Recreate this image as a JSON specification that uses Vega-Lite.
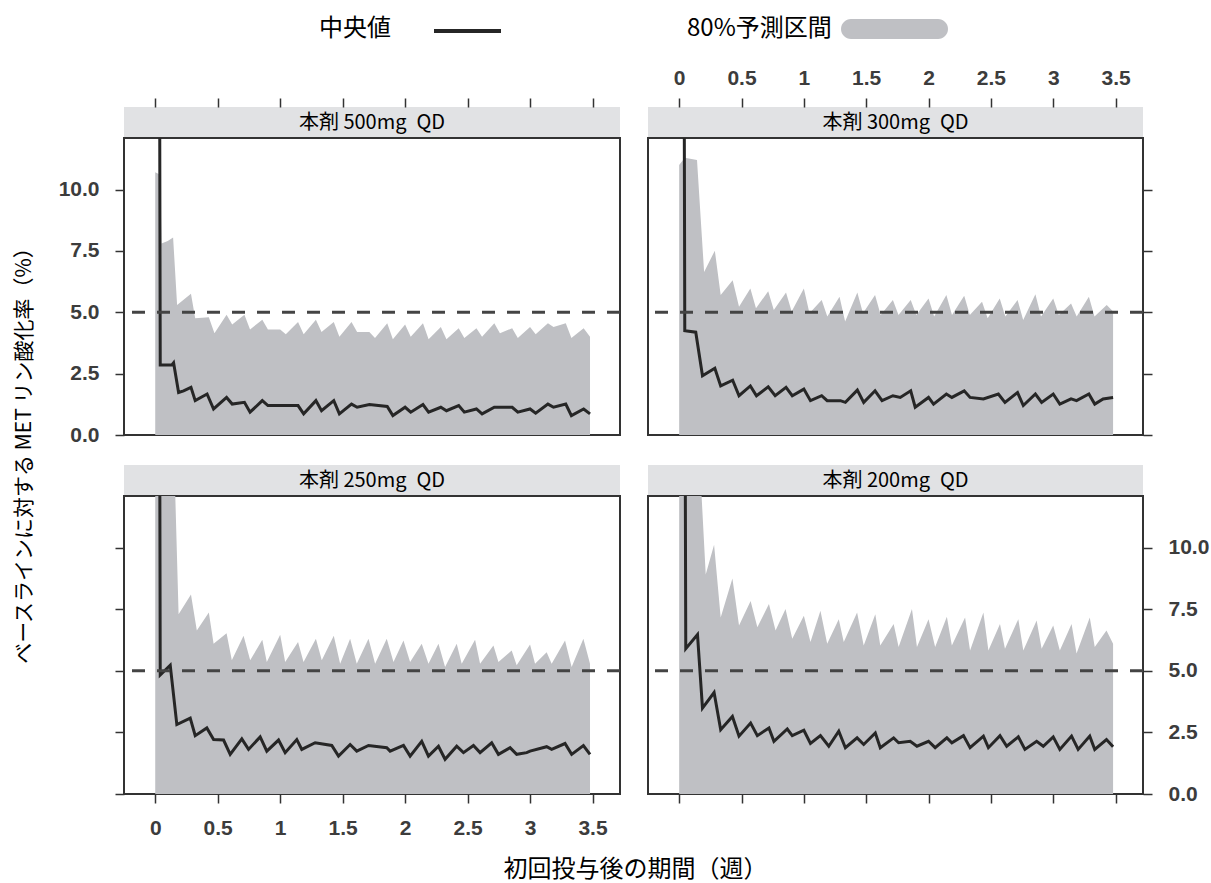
{
  "$schema": "https://vega.github.io/schema/vega-lite/v6.json",
  "background": "white",
  "padding": {"left": 14, "top": 19, "right": 2, "bottom": 5},
  "config": {
    "view": {"stroke": "#333333", "strokeWidth": 2},
    "font": "Noto Sans CJK JP",
    "axis": {"domain": false, "grid": false, "tickColor": "#333333", "tickWidth": 1.5, "tickSize": 9, "labelFont": "Liberation Sans", "labelFontWeight": "bold", "labelFontSize": 21, "labelColor": "#3c3c3c", "titleFont": "Noto Sans CJK JP", "titleFontWeight": "normal", "titleColor": "#000000"},
    "legend": {"orient": "top", "direction": "horizontal", "titleOrient": "left", "titleFont": "Noto Sans CJK JP", "titleFontSize": 24, "titleFontWeight": "normal", "titleColor": "#000000", "offset": 25, "layout": {"top": {"anchor": "middle", "direction": "horizontal", "margin": 178}}}
  },
  "datasets": {
    "panels": [
      {"dose": "500mg", "label": "本剤 500mg\u2002QD"},
      {"dose": "300mg", "label": "本剤 300mg\u2002QD"},
      {"dose": "250mg", "label": "本剤 250mg\u2002QD"},
      {"dose": "200mg", "label": "本剤 200mg\u2002QD"}
    ],
    "reference": [{"threshold": 5}],
    "band": [
      {"dose":"500mg","t":0,"v":10.7},{"dose":"500mg","t":0.04,"v":10.6},{"dose":"500mg","t":0.05,"v":7.8},{"dose":"500mg","t":0.1,"v":7.9},{"dose":"500mg","t":0.143,"v":8.05},{"dose":"500mg","t":0.175,"v":5.3},{"dose":"500mg","t":0.286,"v":5.75},{"dose":"500mg","t":0.32,"v":4.76},{"dose":"500mg","t":0.429,"v":4.8},{"dose":"500mg","t":0.474,"v":4.15},{"dose":"500mg","t":0.571,"v":4.9},{"dose":"500mg","t":0.616,"v":4.5},{"dose":"500mg","t":0.714,"v":4.9},{"dose":"500mg","t":0.759,"v":4.3},{"dose":"500mg","t":0.857,"v":4.7},{"dose":"500mg","t":0.902,"v":4.3},{"dose":"500mg","t":1.0,"v":4.3},{"dose":"500mg","t":1.045,"v":4.1},{"dose":"500mg","t":1.143,"v":4.6},{"dose":"500mg","t":1.188,"v":4.1},{"dose":"500mg","t":1.286,"v":4.7},{"dose":"500mg","t":1.331,"v":4.2},{"dose":"500mg","t":1.429,"v":4.6},{"dose":"500mg","t":1.474,"v":4.0},{"dose":"500mg","t":1.571,"v":4.6},{"dose":"500mg","t":1.616,"v":4.2},{"dose":"500mg","t":1.714,"v":4.2},{"dose":"500mg","t":1.759,"v":3.95},{"dose":"500mg","t":1.857,"v":4.55},{"dose":"500mg","t":1.902,"v":3.9},{"dose":"500mg","t":2.0,"v":4.5},{"dose":"500mg","t":2.045,"v":4.0},{"dose":"500mg","t":2.143,"v":4.55},{"dose":"500mg","t":2.188,"v":3.9},{"dose":"500mg","t":2.286,"v":4.4},{"dose":"500mg","t":2.331,"v":3.9},{"dose":"500mg","t":2.429,"v":4.35},{"dose":"500mg","t":2.474,"v":3.95},{"dose":"500mg","t":2.571,"v":4.35},{"dose":"500mg","t":2.616,"v":4.0},{"dose":"500mg","t":2.714,"v":4.55},{"dose":"500mg","t":2.759,"v":4.15},{"dose":"500mg","t":2.857,"v":4.35},{"dose":"500mg","t":2.902,"v":3.95},{"dose":"500mg","t":3.0,"v":4.4},{"dose":"500mg","t":3.045,"v":4.1},{"dose":"500mg","t":3.143,"v":4.55},{"dose":"500mg","t":3.188,"v":4.4},{"dose":"500mg","t":3.286,"v":4.55},{"dose":"500mg","t":3.331,"v":3.95},{"dose":"500mg","t":3.429,"v":4.35},{"dose":"500mg","t":3.48,"v":4.0},

      {"dose":"300mg","t":0,"v":11.0},{"dose":"300mg","t":0.045,"v":11.3},{"dose":"300mg","t":0.143,"v":11.2},{"dose":"300mg","t":0.2,"v":6.64},{"dose":"300mg","t":0.286,"v":7.51},{"dose":"300mg","t":0.333,"v":5.7},{"dose":"300mg","t":0.429,"v":6.3},{"dose":"300mg","t":0.48,"v":5.23},{"dose":"300mg","t":0.571,"v":5.97},{"dose":"300mg","t":0.616,"v":5.16},{"dose":"300mg","t":0.714,"v":5.86},{"dose":"300mg","t":0.759,"v":5.09},{"dose":"300mg","t":0.857,"v":5.81},{"dose":"300mg","t":0.902,"v":5.03},{"dose":"300mg","t":1.0,"v":5.97},{"dose":"300mg","t":1.045,"v":4.96},{"dose":"300mg","t":1.143,"v":5.5},{"dose":"300mg","t":1.188,"v":4.83},{"dose":"300mg","t":1.286,"v":5.63},{"dose":"300mg","t":1.331,"v":4.62},{"dose":"300mg","t":1.429,"v":5.81},{"dose":"300mg","t":1.474,"v":4.96},{"dose":"300mg","t":1.571,"v":5.7},{"dose":"300mg","t":1.616,"v":4.89},{"dose":"300mg","t":1.714,"v":5.5},{"dose":"300mg","t":1.759,"v":4.89},{"dose":"300mg","t":1.857,"v":5.5},{"dose":"300mg","t":1.902,"v":4.89},{"dose":"300mg","t":2.0,"v":5.56},{"dose":"300mg","t":2.045,"v":4.83},{"dose":"300mg","t":2.143,"v":5.7},{"dose":"300mg","t":2.188,"v":4.89},{"dose":"300mg","t":2.286,"v":5.67},{"dose":"300mg","t":2.331,"v":4.89},{"dose":"300mg","t":2.429,"v":5.43},{"dose":"300mg","t":2.474,"v":4.76},{"dose":"300mg","t":2.571,"v":5.56},{"dose":"300mg","t":2.616,"v":4.83},{"dose":"300mg","t":2.714,"v":5.5},{"dose":"300mg","t":2.759,"v":4.69},{"dose":"300mg","t":2.857,"v":5.73},{"dose":"300mg","t":2.902,"v":4.83},{"dose":"300mg","t":3.0,"v":5.56},{"dose":"300mg","t":3.045,"v":4.89},{"dose":"300mg","t":3.143,"v":5.36},{"dose":"300mg","t":3.188,"v":4.83},{"dose":"300mg","t":3.286,"v":5.63},{"dose":"300mg","t":3.331,"v":4.83},{"dose":"300mg","t":3.429,"v":5.3},{"dose":"300mg","t":3.48,"v":5.03},

      {"dose":"250mg","t":0,"v":14},{"dose":"250mg","t":0.15,"v":14},{"dose":"250mg","t":0.187,"v":7.3},{"dose":"250mg","t":0.286,"v":8.1},{"dose":"250mg","t":0.333,"v":6.64},{"dose":"250mg","t":0.429,"v":7.37},{"dose":"250mg","t":0.467,"v":6.1},{"dose":"250mg","t":0.571,"v":6.53},{"dose":"250mg","t":0.613,"v":5.43},{"dose":"250mg","t":0.707,"v":6.43},{"dose":"250mg","t":0.76,"v":5.43},{"dose":"250mg","t":0.857,"v":6.26},{"dose":"250mg","t":0.893,"v":5.36},{"dose":"250mg","t":1.0,"v":6.47},{"dose":"250mg","t":1.04,"v":5.36},{"dose":"250mg","t":1.143,"v":6.17},{"dose":"250mg","t":1.187,"v":5.36},{"dose":"250mg","t":1.286,"v":6.3},{"dose":"250mg","t":1.333,"v":5.43},{"dose":"250mg","t":1.429,"v":6.43},{"dose":"250mg","t":1.48,"v":5.29},{"dose":"250mg","t":1.56,"v":6.3},{"dose":"250mg","t":1.613,"v":5.29},{"dose":"250mg","t":1.707,"v":6.3},{"dose":"250mg","t":1.76,"v":5.29},{"dose":"250mg","t":1.853,"v":6.3},{"dose":"250mg","t":1.907,"v":5.36},{"dose":"250mg","t":1.987,"v":6.23},{"dose":"250mg","t":2.04,"v":5.36},{"dose":"250mg","t":2.133,"v":6.1},{"dose":"250mg","t":2.187,"v":5.29},{"dose":"250mg","t":2.267,"v":6.1},{"dose":"250mg","t":2.32,"v":5.16},{"dose":"250mg","t":2.413,"v":6.1},{"dose":"250mg","t":2.453,"v":5.29},{"dose":"250mg","t":2.56,"v":6.26},{"dose":"250mg","t":2.6,"v":5.29},{"dose":"250mg","t":2.707,"v":6.03},{"dose":"250mg","t":2.747,"v":5.36},{"dose":"250mg","t":2.853,"v":5.83},{"dose":"250mg","t":2.893,"v":5.23},{"dose":"250mg","t":3.0,"v":6.07},{"dose":"250mg","t":3.04,"v":5.29},{"dose":"250mg","t":3.133,"v":5.76},{"dose":"250mg","t":3.173,"v":5.29},{"dose":"250mg","t":3.28,"v":6.23},{"dose":"250mg","t":3.333,"v":5.16},{"dose":"250mg","t":3.427,"v":6.3},{"dose":"250mg","t":3.48,"v":5.29},

      {"dose":"200mg","t":0,"v":14},{"dose":"200mg","t":0.16,"v":14},{"dose":"200mg","t":0.213,"v":8.91},{"dose":"200mg","t":0.28,"v":10.12},{"dose":"200mg","t":0.333,"v":7.17},{"dose":"200mg","t":0.427,"v":8.75},{"dose":"200mg","t":0.48,"v":6.84},{"dose":"200mg","t":0.573,"v":7.84},{"dose":"200mg","t":0.627,"v":6.77},{"dose":"200mg","t":0.72,"v":7.71},{"dose":"200mg","t":0.773,"v":6.64},{"dose":"200mg","t":0.853,"v":7.51},{"dose":"200mg","t":0.907,"v":6.3},{"dose":"200mg","t":1.0,"v":7.24},{"dose":"200mg","t":1.053,"v":6.17},{"dose":"200mg","t":1.133,"v":7.44},{"dose":"200mg","t":1.187,"v":6.1},{"dose":"200mg","t":1.28,"v":7.1},{"dose":"200mg","t":1.32,"v":6.17},{"dose":"200mg","t":1.427,"v":7.37},{"dose":"200mg","t":1.48,"v":6.03},{"dose":"200mg","t":1.573,"v":7.3},{"dose":"200mg","t":1.613,"v":6.03},{"dose":"200mg","t":1.72,"v":6.9},{"dose":"200mg","t":1.76,"v":5.97},{"dose":"200mg","t":1.867,"v":7.51},{"dose":"200mg","t":1.907,"v":5.97},{"dose":"200mg","t":2.0,"v":7.1},{"dose":"200mg","t":2.053,"v":5.97},{"dose":"200mg","t":2.147,"v":7.2},{"dose":"200mg","t":2.187,"v":6.03},{"dose":"200mg","t":2.293,"v":7.17},{"dose":"200mg","t":2.333,"v":5.83},{"dose":"200mg","t":2.44,"v":7.37},{"dose":"200mg","t":2.48,"v":5.83},{"dose":"200mg","t":2.573,"v":6.9},{"dose":"200mg","t":2.613,"v":5.9},{"dose":"200mg","t":2.72,"v":7.1},{"dose":"200mg","t":2.76,"v":5.83},{"dose":"200mg","t":2.867,"v":7.04},{"dose":"200mg","t":2.907,"v":5.9},{"dose":"200mg","t":3.0,"v":6.84},{"dose":"200mg","t":3.053,"v":5.83},{"dose":"200mg","t":3.147,"v":6.9},{"dose":"200mg","t":3.187,"v":5.7},{"dose":"200mg","t":3.293,"v":7.17},{"dose":"200mg","t":3.333,"v":5.97},{"dose":"200mg","t":3.427,"v":6.64},{"dose":"200mg","t":3.48,"v":6.1}
    ],
    "median": [
      {"dose":"500mg","t":0,"v":100},{"dose":"500mg","t":0.04,"v":2.85},{"dose":"500mg","t":0.133,"v":2.85},{"dose":"500mg","t":0.147,"v":2.94},{"dose":"500mg","t":0.187,"v":1.73},{"dose":"500mg","t":0.227,"v":1.8},{"dose":"500mg","t":0.286,"v":1.94},{"dose":"500mg","t":0.32,"v":1.4},{"dose":"500mg","t":0.415,"v":1.67},{"dose":"500mg","t":0.467,"v":1.06},{"dose":"500mg","t":0.571,"v":1.53},{"dose":"500mg","t":0.616,"v":1.26},{"dose":"500mg","t":0.714,"v":1.33},{"dose":"500mg","t":0.759,"v":0.93},{"dose":"500mg","t":0.857,"v":1.4},{"dose":"500mg","t":0.902,"v":1.2},{"dose":"500mg","t":1.0,"v":1.2},{"dose":"500mg","t":1.143,"v":1.2},{"dose":"500mg","t":1.188,"v":0.86},{"dose":"500mg","t":1.286,"v":1.4},{"dose":"500mg","t":1.331,"v":0.99},{"dose":"500mg","t":1.429,"v":1.4},{"dose":"500mg","t":1.474,"v":0.86},{"dose":"500mg","t":1.571,"v":1.26},{"dose":"500mg","t":1.616,"v":1.13},{"dose":"500mg","t":1.714,"v":1.24},{"dose":"500mg","t":1.857,"v":1.16},{"dose":"500mg","t":1.902,"v":0.79},{"dose":"500mg","t":2.0,"v":1.13},{"dose":"500mg","t":2.045,"v":0.93},{"dose":"500mg","t":2.143,"v":1.24},{"dose":"500mg","t":2.188,"v":0.93},{"dose":"500mg","t":2.286,"v":1.13},{"dose":"500mg","t":2.331,"v":0.99},{"dose":"500mg","t":2.429,"v":1.2},{"dose":"500mg","t":2.474,"v":0.93},{"dose":"500mg","t":2.571,"v":1.06},{"dose":"500mg","t":2.616,"v":0.86},{"dose":"500mg","t":2.714,"v":1.13},{"dose":"500mg","t":2.857,"v":1.13},{"dose":"500mg","t":2.902,"v":0.93},{"dose":"500mg","t":3.0,"v":1.06},{"dose":"500mg","t":3.045,"v":0.89},{"dose":"500mg","t":3.143,"v":1.26},{"dose":"500mg","t":3.188,"v":1.13},{"dose":"500mg","t":3.286,"v":1.26},{"dose":"500mg","t":3.331,"v":0.79},{"dose":"500mg","t":3.429,"v":1.06},{"dose":"500mg","t":3.48,"v":0.86},

      {"dose":"300mg","t":0,"v":100},{"dose":"300mg","t":0.045,"v":4.25},{"dose":"300mg","t":0.133,"v":4.19},{"dose":"300mg","t":0.187,"v":2.41},{"dose":"300mg","t":0.286,"v":2.72},{"dose":"300mg","t":0.333,"v":2.0},{"dose":"300mg","t":0.429,"v":2.23},{"dose":"300mg","t":0.48,"v":1.6},{"dose":"300mg","t":0.571,"v":2.0},{"dose":"300mg","t":0.62,"v":1.6},{"dose":"300mg","t":0.714,"v":1.96},{"dose":"300mg","t":0.77,"v":1.6},{"dose":"300mg","t":0.857,"v":1.94},{"dose":"300mg","t":0.907,"v":1.6},{"dose":"300mg","t":1.0,"v":1.87},{"dose":"300mg","t":1.053,"v":1.4},{"dose":"300mg","t":1.143,"v":1.6},{"dose":"300mg","t":1.187,"v":1.4},{"dose":"300mg","t":1.293,"v":1.4},{"dose":"300mg","t":1.333,"v":1.33},{"dose":"300mg","t":1.429,"v":1.83},{"dose":"300mg","t":1.48,"v":1.33},{"dose":"300mg","t":1.571,"v":1.8},{"dose":"300mg","t":1.627,"v":1.4},{"dose":"300mg","t":1.714,"v":1.6},{"dose":"300mg","t":1.773,"v":1.53},{"dose":"300mg","t":1.857,"v":1.8},{"dose":"300mg","t":1.893,"v":1.13},{"dose":"300mg","t":2.0,"v":1.53},{"dose":"300mg","t":2.04,"v":1.26},{"dose":"300mg","t":2.143,"v":1.67},{"dose":"300mg","t":2.187,"v":1.53},{"dose":"300mg","t":2.286,"v":1.8},{"dose":"300mg","t":2.333,"v":1.53},{"dose":"300mg","t":2.44,"v":1.47},{"dose":"300mg","t":2.56,"v":1.67},{"dose":"300mg","t":2.613,"v":1.33},{"dose":"300mg","t":2.714,"v":1.73},{"dose":"300mg","t":2.76,"v":1.2},{"dose":"300mg","t":2.857,"v":1.67},{"dose":"300mg","t":2.907,"v":1.33},{"dose":"300mg","t":3.0,"v":1.67},{"dose":"300mg","t":3.053,"v":1.26},{"dose":"300mg","t":3.143,"v":1.47},{"dose":"300mg","t":3.187,"v":1.4},{"dose":"300mg","t":3.286,"v":1.67},{"dose":"300mg","t":3.333,"v":1.26},{"dose":"300mg","t":3.4,"v":1.47},{"dose":"300mg","t":3.48,"v":1.53},

      {"dose":"250mg","t":0,"v":100},{"dose":"250mg","t":0.04,"v":4.83},{"dose":"250mg","t":0.12,"v":5.23},{"dose":"250mg","t":0.173,"v":2.82},{"dose":"250mg","t":0.28,"v":3.08},{"dose":"250mg","t":0.32,"v":2.37},{"dose":"250mg","t":0.413,"v":2.68},{"dose":"250mg","t":0.467,"v":2.21},{"dose":"250mg","t":0.547,"v":2.19},{"dose":"250mg","t":0.6,"v":1.61},{"dose":"250mg","t":0.693,"v":2.24},{"dose":"250mg","t":0.747,"v":1.81},{"dose":"250mg","t":0.84,"v":2.32},{"dose":"250mg","t":0.893,"v":1.74},{"dose":"250mg","t":0.987,"v":2.19},{"dose":"250mg","t":1.04,"v":1.68},{"dose":"250mg","t":1.133,"v":2.21},{"dose":"250mg","t":1.173,"v":1.81},{"dose":"250mg","t":1.28,"v":2.08},{"dose":"250mg","t":1.413,"v":1.97},{"dose":"250mg","t":1.467,"v":1.54},{"dose":"250mg","t":1.56,"v":2.01},{"dose":"250mg","t":1.613,"v":1.74},{"dose":"250mg","t":1.707,"v":1.97},{"dose":"250mg","t":1.853,"v":1.88},{"dose":"250mg","t":1.88,"v":1.74},{"dose":"250mg","t":1.987,"v":1.97},{"dose":"250mg","t":2.04,"v":1.54},{"dose":"250mg","t":2.133,"v":2.14},{"dose":"250mg","t":2.187,"v":1.54},{"dose":"250mg","t":2.267,"v":1.94},{"dose":"250mg","t":2.32,"v":1.41},{"dose":"250mg","t":2.413,"v":1.94},{"dose":"250mg","t":2.467,"v":1.68},{"dose":"250mg","t":2.547,"v":1.97},{"dose":"250mg","t":2.6,"v":1.68},{"dose":"250mg","t":2.693,"v":2.08},{"dose":"250mg","t":2.747,"v":1.61},{"dose":"250mg","t":2.84,"v":1.88},{"dose":"250mg","t":2.893,"v":1.61},{"dose":"250mg","t":2.973,"v":1.68},{"dose":"250mg","t":3.0,"v":1.74},{"dose":"250mg","t":3.133,"v":1.92},{"dose":"250mg","t":3.173,"v":1.81},{"dose":"250mg","t":3.28,"v":2.05},{"dose":"250mg","t":3.333,"v":1.61},{"dose":"250mg","t":3.427,"v":1.97},{"dose":"250mg","t":3.48,"v":1.61},

      {"dose":"200mg","t":0,"v":100},{"dose":"200mg","t":0.053,"v":5.9},{"dose":"200mg","t":0.147,"v":6.47},{"dose":"200mg","t":0.187,"v":3.49},{"dose":"200mg","t":0.28,"v":4.12},{"dose":"200mg","t":0.333,"v":2.61},{"dose":"200mg","t":0.427,"v":3.15},{"dose":"200mg","t":0.48,"v":2.35},{"dose":"200mg","t":0.573,"v":2.88},{"dose":"200mg","t":0.627,"v":2.37},{"dose":"200mg","t":0.72,"v":2.68},{"dose":"200mg","t":0.76,"v":2.14},{"dose":"200mg","t":0.867,"v":2.64},{"dose":"200mg","t":0.907,"v":2.37},{"dose":"200mg","t":1.0,"v":2.59},{"dose":"200mg","t":1.053,"v":2.05},{"dose":"200mg","t":1.133,"v":2.37},{"dose":"200mg","t":1.2,"v":1.94},{"dose":"200mg","t":1.28,"v":2.55},{"dose":"200mg","t":1.333,"v":1.88},{"dose":"200mg","t":1.427,"v":2.28},{"dose":"200mg","t":1.48,"v":2.01},{"dose":"200mg","t":1.573,"v":2.48},{"dose":"200mg","t":1.613,"v":1.88},{"dose":"200mg","t":1.72,"v":2.28},{"dose":"200mg","t":1.76,"v":2.08},{"dose":"200mg","t":1.853,"v":2.14},{"dose":"200mg","t":1.907,"v":1.94},{"dose":"200mg","t":2.0,"v":2.14},{"dose":"200mg","t":2.053,"v":1.88},{"dose":"200mg","t":2.147,"v":2.28},{"dose":"200mg","t":2.187,"v":2.08},{"dose":"200mg","t":2.28,"v":2.37},{"dose":"200mg","t":2.333,"v":1.88},{"dose":"200mg","t":2.44,"v":2.35},{"dose":"200mg","t":2.48,"v":1.88},{"dose":"200mg","t":2.573,"v":2.37},{"dose":"200mg","t":2.627,"v":1.94},{"dose":"200mg","t":2.72,"v":2.32},{"dose":"200mg","t":2.773,"v":1.81},{"dose":"200mg","t":2.867,"v":2.14},{"dose":"200mg","t":2.92,"v":1.94},{"dose":"200mg","t":3.0,"v":2.32},{"dose":"200mg","t":3.053,"v":1.81},{"dose":"200mg","t":3.147,"v":2.35},{"dose":"200mg","t":3.2,"v":1.81},{"dose":"200mg","t":3.293,"v":2.35},{"dose":"200mg","t":3.333,"v":1.81},{"dose":"200mg","t":3.427,"v":2.21},{"dose":"200mg","t":3.48,"v":1.92}
    ]
  },
  "title": {"text": "ベースラインに対する MET リン酸化率（%）", "orient": "left", "anchor": "middle", "font": "Noto Sans CJK JP", "fontSize": 21, "fontWeight": "normal", "color": "#000000", "offset": 22},
  "bounds": "flush",
  "columns": 2,
  "spacing": {"row": 0, "column": 28},
  "concat": [
    {"width": 496, "height": 31, "view": {"fill": "#e1e2e4"}, "data": {"name": "panels"}, "transform": [{"filter": "datum.dose == '500mg'"}], "mark": {"type": "text", "fontSize": 20, "font": "Noto Sans CJK JP", "color": "#000000"}, "encoding": {"text": {"field": "label", "type": "nominal"}}},
    {"width": 495, "height": 31, "view": {"fill": "#e1e2e4"}, "data": {"name": "panels"}, "transform": [{"filter": "datum.dose == '300mg'"}], "mark": {"type": "text", "fontSize": 20, "font": "Noto Sans CJK JP", "color": "#000000"}, "encoding": {"text": {"field": "label", "type": "nominal"}}},
    {"width": 496, "height": 297,
     "layer": [
       {"data": {"name": "band"}, "transform": [{"filter": "datum.dose == '500mg'"}], "mark": {"type": "area", "clip": true, "color": "#bfc0c4"},
        "encoding": {
          "x": {"field": "t", "type": "quantitative", "scale": {"domain": [-0.25, 3.72], "nice": false, "zero": false}, "axis": {"title": null, "orient": "top", "offset": 31, "values": [0, 0.5, 1, 1.5, 2, 2.5, 3, 3.5], "labels": false}},
          "y": {"field": "v", "type": "quantitative", "scale": {"domain": [0, 12.1], "nice": false}, "axis": {"title": null, "orient": "left", "values": [0, 2.5, 5, 7.5, 10], "format": ".1f", "labelPadding": 16}}
        }},
       {"data": {"name": "median"}, "transform": [{"filter": "datum.dose == '500mg'"}], "mark": {"type": "line", "clip": true, "strokeWidth": 3},
        "encoding": {
          "x": {"field": "t", "type": "quantitative"},
          "y": {"field": "v", "type": "quantitative"},
          "color": {"datum": "中央値", "type": "nominal", "scale": {"range": ["#262626"]}, "legend": {"title": "中央値", "labelExpr": "''", "symbolType": "M-1,0H5.7", "symbolSize": 400, "symbolStrokeWidth": 4, "symbolFillColor": "transparent", "titlePadding": 41}}
        }},
       {"data": {"name": "reference"}, "mark": {"type": "rule", "strokeDash": [13, 12], "strokeWidth": 3, "color": "#444444"}, "encoding": {"y": {"field": "threshold", "type": "quantitative"}}}
     ]},
    {"width": 495, "height": 297,
     "layer": [
       {"data": {"name": "band"}, "transform": [{"filter": "datum.dose == '300mg'"}], "mark": {"type": "area", "clip": true},
        "encoding": {
          "x": {"field": "t", "type": "quantitative", "scale": {"domain": [-0.25, 3.72], "nice": false, "zero": false}, "axis": {"title": null, "orient": "top", "offset": 31, "values": [0, 0.5, 1, 1.5, 2, 2.5, 3, 3.5], "format": "~g", "labelPadding": 10}},
          "y": {"field": "v", "type": "quantitative", "scale": {"domain": [0, 12.1], "nice": false}, "axis": {"title": null, "orient": "right", "values": [0, 2.5, 5, 7.5, 10], "labels": false}},
          "fill": {"datum": "80%予測区間", "type": "nominal", "scale": {"range": ["#bfc0c4"]}, "legend": {"title": "80%予測区間", "labelExpr": "''", "symbolType": "M0,-1H8.7A1,1 0 0 1 8.7,1H0A1,1 0 0 1 0,-1Z", "symbolSize": 400, "symbolStrokeWidth": 0, "titlePadding": 9}}
        }},
       {"data": {"name": "median"}, "transform": [{"filter": "datum.dose == '300mg'"}], "mark": {"type": "line", "clip": true, "strokeWidth": 3},
        "encoding": {
          "x": {"field": "t", "type": "quantitative"},
          "y": {"field": "v", "type": "quantitative"},
          "color": {"datum": "中央値", "type": "nominal"}
        }},
       {"data": {"name": "reference"}, "mark": {"type": "rule", "strokeDash": [13, 12], "strokeWidth": 3, "color": "#444444"}, "encoding": {"y": {"field": "threshold", "type": "quantitative"}}}
     ]},
    {"width": 496, "height": 30, "view": {"stroke": null, "fill": null}, "data": {"values": []}, "mark": "text"},
    {"width": 495, "height": 30, "view": {"stroke": null, "fill": null}, "data": {"values": []}, "mark": "text"},
    {"width": 496, "height": 31, "view": {"fill": "#e1e2e4"}, "data": {"name": "panels"}, "transform": [{"filter": "datum.dose == '250mg'"}], "mark": {"type": "text", "fontSize": 20, "font": "Noto Sans CJK JP", "color": "#000000"}, "encoding": {"text": {"field": "label", "type": "nominal"}}},
    {"width": 495, "height": 31, "view": {"fill": "#e1e2e4"}, "data": {"name": "panels"}, "transform": [{"filter": "datum.dose == '200mg'"}], "mark": {"type": "text", "fontSize": 20, "font": "Noto Sans CJK JP", "color": "#000000"}, "encoding": {"text": {"field": "label", "type": "nominal"}}},
    {"width": 496, "height": 298,
     "layer": [
       {"data": {"name": "band"}, "transform": [{"filter": "datum.dose == '250mg'"}], "mark": {"type": "area", "clip": true},
        "encoding": {
          "x": {"field": "t", "type": "quantitative", "scale": {"domain": [-0.25, 3.72], "nice": false, "zero": false}, "axis": {"orient": "bottom", "values": [0, 0.5, 1, 1.5, 2, 2.5, 3, 3.5], "format": "~g", "labelPadding": 14, "title": "初回投与後の期間（週）", "titleFontSize": 24, "titleX": 511, "titlePadding": 19}},
          "y": {"field": "v", "type": "quantitative", "scale": {"domain": [0, 12.1], "nice": false}, "axis": {"title": null, "orient": "left", "values": [0, 2.5, 5, 7.5, 10], "labels": false}},
          "fill": {"datum": "80%予測区間", "type": "nominal"}
        }},
       {"data": {"name": "median"}, "transform": [{"filter": "datum.dose == '250mg'"}], "mark": {"type": "line", "clip": true, "strokeWidth": 3},
        "encoding": {
          "x": {"field": "t", "type": "quantitative"},
          "y": {"field": "v", "type": "quantitative"},
          "color": {"datum": "中央値", "type": "nominal"}
        }},
       {"data": {"name": "reference"}, "mark": {"type": "rule", "strokeDash": [13, 12], "strokeWidth": 3, "color": "#444444"}, "encoding": {"y": {"field": "threshold", "type": "quantitative"}}}
     ]},
    {"width": 495, "height": 298,
     "layer": [
       {"data": {"name": "band"}, "transform": [{"filter": "datum.dose == '200mg'"}], "mark": {"type": "area", "clip": true},
        "encoding": {
          "x": {"field": "t", "type": "quantitative", "scale": {"domain": [-0.25, 3.72], "nice": false, "zero": false}, "axis": {"title": null, "orient": "bottom", "values": [0, 0.5, 1, 1.5, 2, 2.5, 3, 3.5], "labels": false}},
          "y": {"field": "v", "type": "quantitative", "scale": {"domain": [0, 12.1], "nice": false}, "axis": {"title": null, "orient": "right", "values": [0, 2.5, 5, 7.5, 10], "format": ".1f", "labelPadding": 16}},
          "fill": {"datum": "80%予測区間", "type": "nominal"}
        }},
       {"data": {"name": "median"}, "transform": [{"filter": "datum.dose == '200mg'"}], "mark": {"type": "line", "clip": true, "strokeWidth": 3},
        "encoding": {
          "x": {"field": "t", "type": "quantitative"},
          "y": {"field": "v", "type": "quantitative"},
          "color": {"datum": "中央値", "type": "nominal"}
        }},
       {"data": {"name": "reference"}, "mark": {"type": "rule", "strokeDash": [13, 12], "strokeWidth": 3, "color": "#444444"}, "encoding": {"y": {"field": "threshold", "type": "quantitative"}}}
     ]}
  ]
}
